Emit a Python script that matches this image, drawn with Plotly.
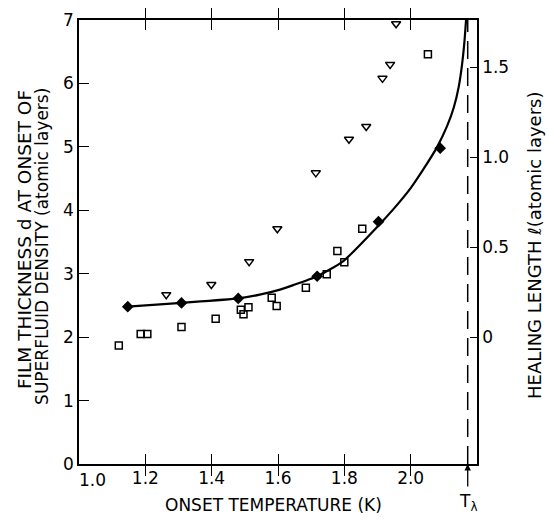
import plotly.graph_objects as go

# ---- data ----
curve_T = [1.147, 1.309, 1.480, 1.545, 1.606, 1.646, 1.718, 1.797, 1.903, 1.950,
           2.000, 2.040, 2.080, 2.110, 2.130, 2.145, 2.155, 2.162, 2.167]
curve_d = [2.48, 2.54, 2.61, 2.67, 2.75, 2.82, 2.96, 3.20, 3.76, 4.03,
           4.35, 4.66, 5.00, 5.33, 5.62, 5.95, 6.30, 6.65, 7.00]

diamond_T = [1.147, 1.309, 1.480, 1.718, 1.903, 2.089]
diamond_d = [2.48, 2.54, 2.61, 2.96, 3.82, 4.98]

triangle_T = [1.263, 1.399, 1.513, 1.598, 1.714, 1.814, 1.866, 1.915, 1.938, 1.956]
triangle_d = [2.67, 2.83, 3.19, 3.71, 4.59, 5.12, 5.32, 6.08, 6.30, 6.94]

square_T = [1.120, 1.186, 1.206, 1.309, 1.412, 1.488, 1.496, 1.511, 1.581, 1.596,
            1.684, 1.747, 1.779, 1.800, 1.854, 2.052]
square_d = [1.87, 2.05, 2.05, 2.16, 2.29, 2.43, 2.36, 2.47, 2.62, 2.49,
            2.78, 2.99, 3.36, 3.18, 3.71, 6.46]

T_lambda = 2.172

x_ticks = [1.0, 1.2, 1.4, 1.6, 1.8, 2.0]
x_ticktext = ["1.0", "1.2", "1.4", "1.6", "1.8", "2.0"]
y_ticks = [0, 1, 2, 3, 4, 5, 6, 7]
y2_ticks = [0, 0.5, 1.0, 1.5]
y2_ticktext = ["0", "0.5", "1.0", "1.5"]

FONT = "DejaVu Sans"

layout_w, layout_h = 548, 521
L, R, T, B = 79, 71, 10, 57
pw = layout_w - L - R
ph = layout_h - T - B


def px_x(p):
    return (p - L) / pw


def px_y(p):
    return (layout_h - B - p) / ph


fig = go.Figure()

fig.add_trace(go.Scatter(
    x=curve_T, y=curve_d, mode="lines",
    line=dict(color="black", width=2.2, shape="spline", smoothing=0.6),
    hoverinfo="skip", showlegend=False))

fig.add_trace(go.Scatter(
    x=square_T, y=square_d, mode="markers",
    marker=dict(symbol="square-open", size=7, color="black", line=dict(width=1.5, color="black")),
    showlegend=False))

fig.add_trace(go.Scatter(
    x=triangle_T, y=triangle_d, mode="markers",
    marker=dict(symbol="triangle-down-open", size=8, color="black", line=dict(width=1.5, color="black")),
    showlegend=False))

fig.add_trace(go.Scatter(
    x=diamond_T, y=diamond_d, mode="markers",
    marker=dict(symbol="diamond", size=9, color="black", line=dict(width=0)),
    showlegend=False))

# invisible trace to activate right axis
fig.add_trace(go.Scatter(x=[None], y=[None], yaxis="y2", showlegend=False, hoverinfo="skip"))

# dashed T_lambda line
fig.add_shape(type="line", xref="x", yref="paper", x0=T_lambda, x1=T_lambda, y0=0, y1=1,
              line=dict(color="black", width=1.5, dash="18px,9px"))

# solid stem below the axis with arrowhead pointing up at T_lambda
fig.add_annotation(x=T_lambda, y=0, xref="x", yref="y", ax=0, ay=25, axref="pixel", ayref="pixel",
                   text=" ", showarrow=True, arrowhead=2, arrowsize=1, arrowwidth=1.3,
                   arrowcolor="black", font=dict(size=2))
fig.add_annotation(x=T_lambda, y=px_y(503), xref="x", yref="paper", yanchor="middle",
                   text="T<sub>λ</sub>", showarrow=False,
                   font=dict(family=FONT, size=17, color="black"))

# first x tick label, set slightly right of the corner as in the reference
fig.add_annotation(x=px_x(92), y=px_y(480), xref="paper", yref="paper",
                   xanchor="center", yanchor="middle",
                   text=x_ticktext[0], showarrow=False,
                   font=dict(family=FONT, size=17, color="black"))

# left title (two lines)
fig.add_annotation(x=px_x(24), y=px_y(235), xref="paper", yref="paper",
                   text="FILM THICKNESS d AT ONSET OF", textangle=-90, showarrow=False,
                   xanchor="center", yanchor="middle",
                   font=dict(family=FONT, size=18.5, color="black"))
fig.add_annotation(x=px_x(42), y=px_y(242), xref="paper", yref="paper",
                   text="SUPERFLUID DENSITY (atomic layers)", textangle=-90, showarrow=False,
                   xanchor="center", yanchor="middle",
                   font=dict(family=FONT, size=17, color="black"))
# right title
fig.add_annotation(x=px_x(535), y=px_y(241), xref="paper", yref="paper",
                   text="HEALING LENGTH <i>ℓ</i>(atomic layers)", textangle=-90, showarrow=False,
                   xanchor="center", yanchor="middle",
                   font=dict(family=FONT, size=18, color="black"))
# bottom title
fig.add_annotation(x=px_x(273), y=px_y(506), xref="paper", yref="paper",
                   text="ONSET TEMPERATURE (K)", showarrow=False,
                   xanchor="center", yanchor="middle",
                   font=dict(family=FONT, size=17, color="black"))

fig.update_layout(
    width=layout_w, height=layout_h,
    margin=dict(l=L, r=R, t=T, b=B),
    plot_bgcolor="white", paper_bgcolor="white",
    font=dict(family=FONT, size=17, color="black"),
    xaxis=dict(range=[1.0, 2.2], tickvals=x_ticks, ticktext=[""] + x_ticktext[1:],
               ticks="inside", ticklen=10, tickwidth=1.3, tickcolor="black",
               showline=True, linecolor="black", linewidth=1.5, mirror="allticks",
               showgrid=False, zeroline=False, ticklabelstandoff=-2,
               tickfont=dict(family=FONT, size=17)),
    yaxis=dict(range=[0, 7], tickvals=y_ticks,
               ticks="inside", ticklen=10, tickwidth=1.3, tickcolor="black",
               showline=True, linecolor="black", linewidth=1.5, mirror=False,
               showgrid=False, zeroline=False,
               tickfont=dict(family=FONT, size=17)),
    yaxis2=dict(range=[-0.704, 1.764], overlaying="y", side="right",
                tickvals=y2_ticks, ticktext=y2_ticktext,
                ticks="inside", ticklen=7, tickwidth=1.3, tickcolor="black",
                showline=True, linecolor="black", linewidth=1.5,
                showgrid=False, zeroline=False,
                tickfont=dict(family=FONT, size=17)),
)

fig.write_html("out.html")
